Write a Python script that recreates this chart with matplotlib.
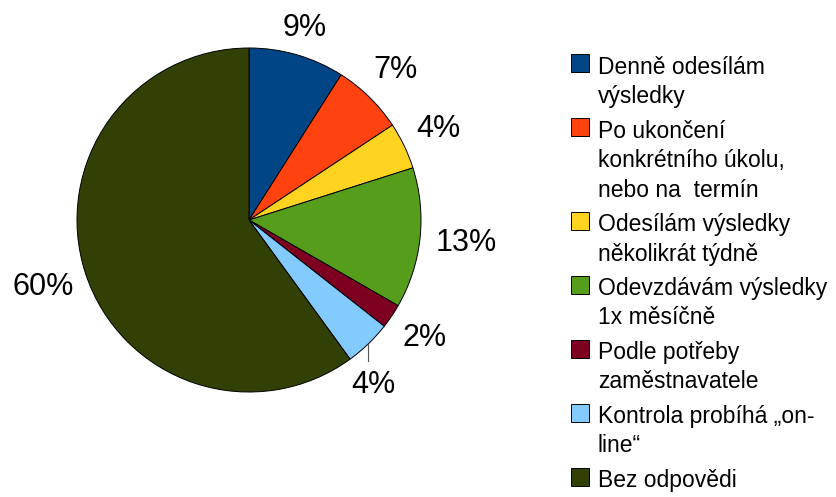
import numpy as np
import matplotlib.pyplot as plt

plt.rcParams['font.family'] = ['Liberation Sans', 'DejaVu Sans']

# survey answers (share of respondents, %)
categories = [
    ['Denně odesílám', 'výsledky'],
    ['Po ukončení', 'konkrétního úkolu,', 'nebo na  termín'],
    ['Odesílám výsledky', 'několikrát týdně'],
    ['Odevzdávám výsledky', '1x měsíčně'],
    ['Podle potřeby', 'zaměstnavatele'],
    ['Kontrola probíhá „on-', 'line“'],
    ['Bez odpovědi'],
]
shares = [9.0, 6.7, 4.4, 13.2, 2.3, 4.4, 60.0]
colors = ['#004586', '#ff420e', '#ffd320', '#579d1c', '#7e0021', '#83caff', '#314004']

W, H = 837, 497
fig = plt.figure(figsize=(W / 100, H / 100), dpi=100)

# pie axes: centre (249, 220) px, radius 172 px
cx, cy, r = 249, 220, 172
ax = fig.add_axes([(cx - r) / W, (H - cy - r) / H, 2 * r / W, 2 * r / H])
wedges, texts, pcts = ax.pie(shares, colors=colors, startangle=90, counterclock=False,
                             autopct='%.0f%%', pctdistance=1.22,
                             wedgeprops=dict(edgecolor='black', linewidth=0.7),
                             textprops=dict(fontsize=22, color='black'))
ax.set_xlim(-1, 1)
ax.set_ylim(-1, 1)
ax.set_aspect('equal')
ax.axis('off')

# label distances from centre, tuned per slice
dist = [1.16, 1.22, 1.22, 1.27, 1.23, None, 1.26]
for w, t, d in zip(wedges, pcts, dist):
    if d is None:
        continue
    a = np.deg2rad((w.theta1 + w.theta2) / 2)
    t.set_position((d * np.cos(a), d * np.sin(a)))

# leader line for the small light-blue slice
w = wedges[5]
mid = np.deg2rad((w.theta1 + w.theta2) / 2)
x0, y0 = np.cos(mid), np.sin(mid)
ax.plot([x0, x0], [y0, y0 - 0.1], color='#555555', lw=0.8, clip_on=False)
pcts[5].set_position((x0 + 0.03, y0 - 0.24))

# legend drawn by hand
lx = 571
line_h = 29.5
gap = 5
top = 54
for lines, c in zip(categories, colors):
    fig.patches.append(plt.Rectangle((lx / W, 1 - (top + 18) / H), 18 / W, 18 / H,
                                     transform=fig.transFigure, facecolor=c,
                                     edgecolor='black', linewidth=0.7))
    for i, t in enumerate(lines):
        y = top + 13 + i * line_h
        fig.text(598 / W, 1 - y / H, t, fontsize=16.5, va='center', ha='left')
    top += len(lines) * line_h + gap

fig.savefig('out.png', dpi=100)
